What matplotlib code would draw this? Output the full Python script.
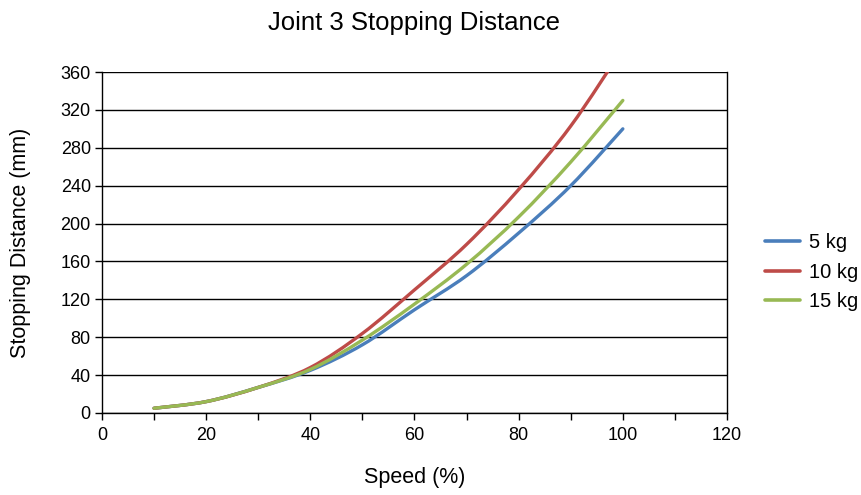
import matplotlib
matplotlib.use('Agg')
import matplotlib.pyplot as plt
from matplotlib.ticker import MultipleLocator
from matplotlib.path import Path
from matplotlib.patches import PathPatch
from matplotlib.lines import Line2D

plt.rcParams['font.family'] = ['Liberation Sans', 'DejaVu Sans']

#----------datos-------------------------------------------------
speed = [10, 20, 30, 40, 50, 60, 70, 80, 90, 100]
d_5kg = [5, 12, 27, 45, 72, 109, 145, 190, 240, 300]
d_10kg = [5, 12, 27, 48, 84, 130, 178, 236, 303, 385]
d_15kg = [5, 12, 27, 46, 77, 115, 157, 207, 265, 330]
labels = ['5 kg', '10 kg', '15 kg']
colors = ['#4A7EBB', '#BE4B48', '#98B954']

#----------curva suavizada (como Excel, Catmull-Rom -> Bezier)----
def smooth_path(xs, ys):
    p = list(zip(xs, ys))
    n = len(p)
    verts = [p[0]]
    codes = [Path.MOVETO]
    for i in range(n - 1):
        p0 = p[i - 1] if i > 0 else p[i]
        p1 = p[i]
        p2 = p[i + 1]
        p3 = p[i + 2] if i + 2 < n else p[i + 1]
        c1 = (p1[0] + (p2[0] - p0[0]) / 6., p1[1] + (p2[1] - p0[1]) / 6.)
        c2 = (p2[0] - (p3[0] - p1[0]) / 6., p2[1] - (p3[1] - p1[1]) / 6.)
        verts += [c1, c2, p2]
        codes += [Path.CURVE4] * 3
    return Path(verts, codes)

#----------figura-----------------------------------------------
fig = plt.figure(figsize=(8.62, 4.95), dpi=100)
ax = fig.add_axes([0.1183, 0.1657, 0.7251, 0.6888])

handles = []
for y, lab, c in zip([d_5kg, d_10kg, d_15kg], labels, colors):
    patch = PathPatch(smooth_path(speed, y), facecolor='none', edgecolor=c,
                      lw=2.4, capstyle='round', zorder=3)
    ax.add_patch(patch)
    handles.append(Line2D([], [], color=c, lw=2.6, solid_capstyle='round', label=lab))

ax.set_xlim(0, 120)
ax.set_ylim(0, 360)
ax.xaxis.set_major_locator(MultipleLocator(20))
ax.xaxis.set_minor_locator(MultipleLocator(10))
ax.yaxis.set_major_locator(MultipleLocator(40))
ax.grid(axis='y', color='black', lw=1.0)
ax.set_axisbelow(True)

for s in ['left', 'bottom', 'right']:
    ax.spines[s].set_color('black')
    ax.spines[s].set_linewidth(1.0)
ax.spines['top'].set_visible(False)

ax.tick_params(axis='both', which='major', direction='out', length=5, width=1,
               labelsize=13, color='black')
ax.tick_params(axis='y', pad=3)
ax.tick_params(axis='x', pad=5)
ax.tick_params(axis='x', which='minor', direction='out', length=5, width=1)

ax.set_title('Joint 3 Stopping Distance', fontsize=18.5, pad=30)
ax.set_xlabel('Speed (%)', fontsize=15.5, labelpad=17)
ax.set_ylabel('Stopping Distance (mm)', fontsize=15.5, labelpad=21)

leg = ax.legend(handles=handles, loc='center left', bbox_to_anchor=(1.048, 0.413),
                borderaxespad=0, frameon=False, fontsize=14.5, handlelength=1.75,
                handletextpad=0.45, labelspacing=0.52)

fig.savefig('out.png', dpi=100)
